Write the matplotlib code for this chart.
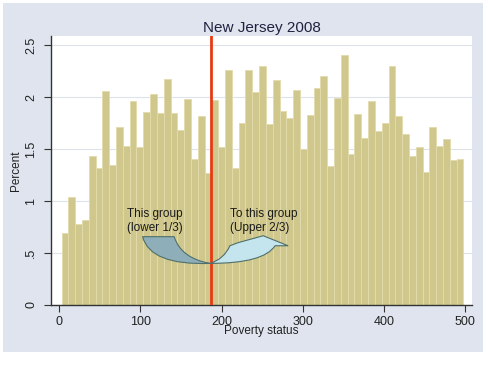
import numpy as np
import matplotlib
matplotlib.use("Agg")
import matplotlib.pyplot as plt
from matplotlib.patches import PathPatch, Rectangle
from matplotlib.path import Path

plt.rcParams['font.family'] = ['Liberation Sans', 'DejaVu Sans']

# percent of people in each poverty-status bin (59 bins, Stata default)
bin_lo = 3
bin_hi = 498
pct = [0.695, 1.035, 0.78, 0.82, 1.43, 1.32, 2.06, 1.35, 1.715, 1.53,
       1.965, 1.52, 1.86, 2.025, 1.85, 2.17, 1.85, 1.68, 1.985, 1.40,
       1.82, 1.27, 1.97, 1.52, 2.26, 1.32, 1.75, 2.26, 2.05, 2.30,
       1.74, 2.16, 1.87, 1.80, 2.07, 1.50, 1.83, 2.09, 2.20, 1.34,
       1.99, 2.40, 1.45, 1.84, 1.605, 1.96, 1.675, 1.75, 2.30, 1.815,
       1.645, 1.435, 1.515, 1.28, 1.715, 1.525, 1.60, 1.39, 1.40]
cutoff = 187  # lower third / upper two thirds

xticks = [0, 100, 200, 300, 400, 500]
yticks = [0, 0.5, 1, 1.5, 2, 2.5]
ylabels = ["0", ".5", "1", "1.5", "2", "2.5"]

W, H = 488, 366
fig = plt.figure(figsize=(W / 100, H / 100), dpi=100)
fig.patch.set_facecolor("white")
# Stata-style graph region
fig.patches.append(Rectangle((3 / W, 14 / H), 480 / W, 349 / H,
                             transform=fig.transFigure, facecolor="#dfe4ee",
                             edgecolor="none", zorder=-5))

ax = fig.add_axes([51 / W, 61 / H, 421 / W, 269 / H])
ax.set_zorder(1)
ax.set_facecolor("white")

edges = np.linspace(bin_lo, bin_hi, len(pct) + 1)
ax.bar(edges[:-1], pct, width=np.diff(edges), align="edge",
       color="#cfc78c", edgecolor="#e2dcad", linewidth=0.6, zorder=2)

ax.axvline(cutoff, color="#e83a12", linewidth=2.0, zorder=4)

# curved arrows (annotation shapes, data coords)
left_arrow = Path(
    [(102.8, 0.657), (141.7, 0.657),
     (150, 0.45), (185.7, 0.40),
     (112, 0.38), (102.8, 0.657), (102.8, 0.657)],
    [Path.MOVETO, Path.LINETO, Path.CURVE3, Path.CURVE3,
     Path.CURVE3, Path.CURVE3, Path.CLOSEPOLY])
ax.add_patch(PathPatch(left_arrow, facecolor="#8eafba", edgecolor="#4f6f6a",
                       linewidth=0.8, zorder=5))

right_arrow = Path(
    [(185.7, 0.40),
     (252, 0.40), (266, 0.57),
     (282, 0.57),
     (251.4, 0.666),
     (220.6, 0.60),
     (210.4, 0.57),
     (203, 0.44), (185.7, 0.40),
     (185.7, 0.40)],
    [Path.MOVETO, Path.CURVE3, Path.CURVE3, Path.LINETO, Path.LINETO,
     Path.LINETO, Path.LINETO, Path.CURVE3, Path.CURVE3, Path.CLOSEPOLY])
ax.add_patch(PathPatch(right_arrow, facecolor="#c4e5ed", edgecolor="#4f6f6a",
                       linewidth=0.8, zorder=5))

ax.text(84, 0.93, "This group\n(lower 1/3)", fontsize=8.5, color="#1a1a1a",
        va="top", ha="left", linespacing=1.15, zorder=6)
ax.text(210, 0.93, "To this group\n(Upper 2/3)", fontsize=8.5, color="#1a1a1a",
        va="top", ha="left", linespacing=1.15, zorder=6)

ax.set_xlim(-10, 508.5)
ax.set_ylim(0, 2.587)
ax.set_xticks(xticks)
ax.set_yticks(yticks)
ax.set_yticklabels(ylabels, rotation=90, va="center")
ax.tick_params(axis="both", direction="out", length=5, width=0.8,
               colors="#333333", labelsize=9, labelcolor="#222222", pad=3)
ax.tick_params(axis="y", pad=5)
ax.grid(axis="y", color="#dde3ea", linewidth=0.8, zorder=1)
ax.set_axisbelow(True)
for s in ["top", "right"]:
    ax.spines[s].set_visible(False)
for s in ["left", "bottom"]:
    ax.spines[s].set_color("#333333")
    ax.spines[s].set_linewidth(1.0)

ax.set_title("New Jersey 2008", fontsize=11, color="#1e2240", pad=3)
ax.set_xlabel("Poverty status", fontsize=8.5, color="#222222", labelpad=-2)
ax.set_ylabel("Percent", fontsize=8.5, color="#222222", labelpad=2)

fig.savefig("out.png", dpi=100, facecolor=fig.get_facecolor())
